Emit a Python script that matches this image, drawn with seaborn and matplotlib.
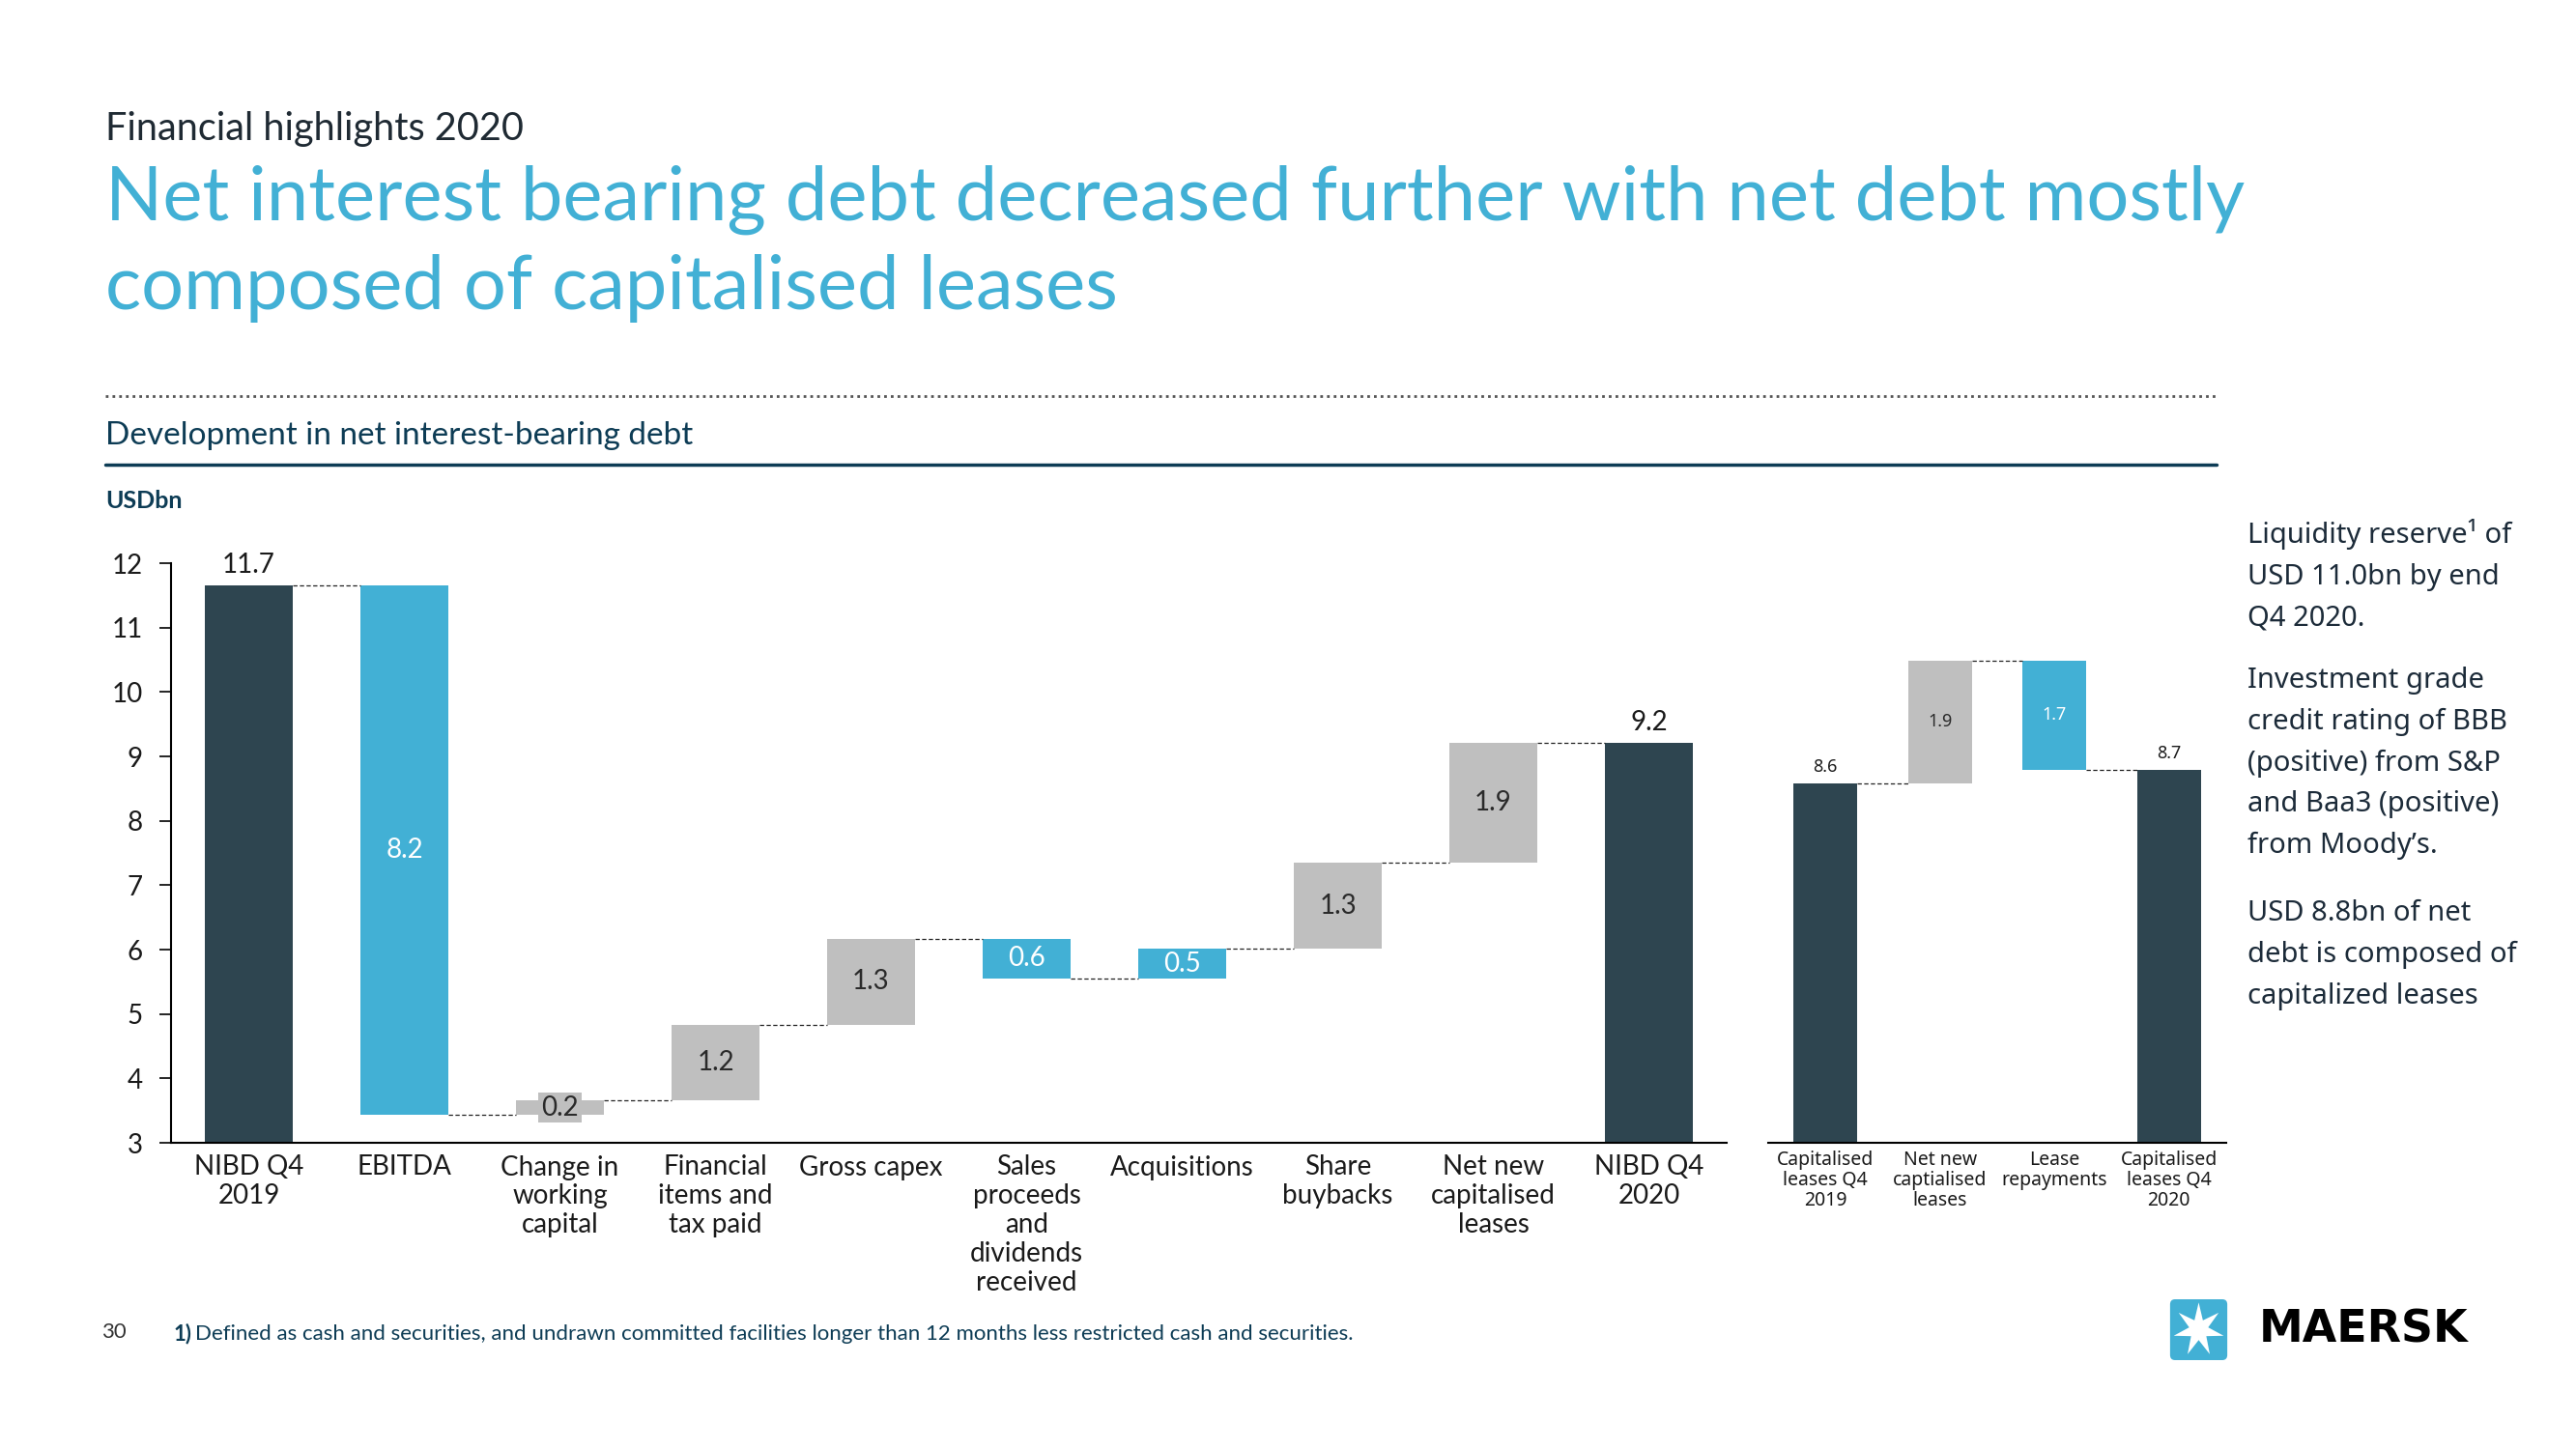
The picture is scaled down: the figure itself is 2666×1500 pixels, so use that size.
import matplotlib
matplotlib.use("Agg")
import matplotlib.pyplot as plt
import numpy as np
import pandas as pd
import seaborn as sns
from matplotlib.patches import FancyBboxPatch, Polygon

# main waterfall data (USDbn)
steps = ["NIBD Q4\n2019", "EBITDA", "Change in\nworking\ncapital", "Financial\nitems and\ntax paid",
         "Gross capex", "Sales\nproceeds\nand\ndividends\nreceived", "Acquisitions", "Share\nbuybacks",
         "Net new\ncapitalised\nleases", "NIBD Q4\n2020"]
step_values = [11.65, -8.22, 0.23, 1.17, 1.34, -0.62, 0.46, 1.34, 1.86, 9.21]
step_kinds = ["total", "blue", "grey", "grey", "grey", "blue", "blue", "grey", "grey", "total"]
step_labels = ["11.7", "8.2", "0.2", "1.2", "1.3", "0.6", "0.5", "1.3", "1.9", "9.2"]

# capitalised leases bridge
lease_steps = ["Capitalised\nleases Q4\n2019", "Net new\ncaptialised\nleases", "Lease\nrepayments",
               "Capitalised\nleases Q4\n2020"]
lease_values = [8.58, 1.91, -1.70, 8.79]
lease_kinds = ["total", "grey", "blue", "total"]
lease_labels = ["8.6", "1.9", "1.7", "8.7"]

yticks = list(range(3, 13))

DARK = "#2e4550"
BLUE = "#42b0d5"
GREY = "#bfbfbf"
NAVY = "#0d3c55"
TXT = "#1a1a1a"
palette = {"total": DARK, "blue": BLUE, "grey": GREY}


def bridge(values, kinds):
    # running totals -> bottoms / tops of each bar, plus connector level
    bottoms, tops, levels, level = [], [], [], 0.0
    for v, k in zip(values, kinds):
        if k == "total":
            level = v
            bottoms.append(0.0)
            tops.append(v)
        else:
            new = level + v
            bottoms.append(min(level, new))
            tops.append(max(level, new))
            level = new
        levels.append(level)
    return np.array(bottoms), np.array(tops), levels


def draw_bridge(ax, names, values, kinds, labels, width, fs):
    bottoms, tops, levels = bridge(values, kinds)
    df = pd.DataFrame({"step": names, "top": tops, "bottom": bottoms, "kind": kinds})
    sns.barplot(data=df, x="step", y="top", hue="kind", palette=palette, order=names,
                dodge=False, width=width, saturation=1, linewidth=0, legend=False, ax=ax)
    # white cover for the floating part
    sns.barplot(data=df, x="step", y="bottom", color="white", order=names,
                width=width, saturation=1, linewidth=0, ax=ax)
    # connectors
    for i in range(len(names) - 1):
        ax.plot([i + width / 2, i + 1 - width / 2], [levels[i], levels[i]],
                ls=(0, (3.5, 2)), color="#222222", lw=0.9, zorder=5)
    # value labels
    for i, (k, lab) in enumerate(zip(kinds, labels)):
        if k == "total":
            ax.annotate(lab, (i, tops[i]), xytext=(0, 6), textcoords="offset points",
                        ha="center", va="bottom", fontsize=fs, color=TXT)
        else:
            mid = (bottoms[i] + tops[i]) / 2
            col = "white" if k == "blue" else "#2a2a2a"
            bbox = None
            if tops[i] - bottoms[i] < 0.35 and k == "grey":
                bbox = dict(facecolor=GREY, edgecolor="none", pad=2)
            ax.text(i, mid, lab, ha="center", va="center", fontsize=fs, color=col, bbox=bbox, zorder=6)
    ax.set_xlim(-0.5, len(names) - 0.5)
    ax.set_ylim(3, 12)
    ax.set_xlabel("")
    ax.set_ylabel("")


sns.set_theme(style="white")
plt.rcParams["font.family"] = ["Lato", "DejaVu Sans"]

fig = plt.figure(figsize=(26.66, 15), dpi=100)
W, H = 2666, 1500


def fx(px):
    return px / W


def fy(py):
    return 1 - py / H


# main chart
ax = fig.add_axes([fx(177), fy(1183), fx(1787 - 177), (1183 - 583) / H])
draw_bridge(ax, steps, step_values, step_kinds, step_labels, 0.56, 20)
ax.set_yticks(yticks)
ax.set_yticklabels([str(t) for t in yticks], fontsize=20, color=TXT)
ax.tick_params(axis="y", length=9, width=1.2, color="black", pad=12, left=True)
ax.tick_params(axis="x", length=0, pad=9, labelsize=20, labelcolor=TXT)
for s in ["top", "right"]:
    ax.spines[s].set_visible(False)
for s in ["left", "bottom"]:
    ax.spines[s].set_color("black")
    ax.spines[s].set_linewidth(1.5)
for t in ax.get_xticklabels():
    t.set_linespacing(1.18)

# capitalised leases chart
ax2 = fig.add_axes([fx(1830), fy(1183), fx(2304 - 1830), (1183 - 583) / H])
draw_bridge(ax2, lease_steps, lease_values, lease_kinds, lease_labels, 0.56, 13)
ax2.set_yticks([])
ax2.tick_params(axis="x", length=0, pad=6)
for s in ["top", "right", "left"]:
    ax2.spines[s].set_visible(False)
ax2.spines["bottom"].set_color("black")
ax2.spines["bottom"].set_linewidth(1.5)
for t in ax2.get_xticklabels():
    t.set_fontsize(14)
    t.set_family(["Noto Sans", "DejaVu Sans"])
    t.set_color(TXT)
    t.set_linespacing(1.05)
for t in ax2.texts:
    t.set_family(["Noto Sans", "DejaVu Sans"])

# headings
fig.text(fx(109), fy(133), "Financial highlights 2020", fontsize=28.5, color="#1f2a33",
         va="center", ha="left")
fig.text(fx(109), fy(207), "Net interest bearing debt decreased further with net debt mostly",
         fontsize=56, color=BLUE, va="center", ha="left")
fig.text(fx(109), fy(299), "composed of capitalised leases",
         fontsize=56, color=BLUE, va="center", ha="left")
fig.lines.append(plt.Line2D([fx(109), fx(2294)], [fy(410), fy(410)], transform=fig.transFigure,
                            color="#555555", lw=2, ls=(0, (1, 1.5))))
fig.text(fx(109), fy(451), "Development in net interest-bearing debt", fontsize=24, color=NAVY,
         va="center", ha="left")
fig.lines.append(plt.Line2D([fx(109), fx(2294)], [fy(481), fy(481)], transform=fig.transFigure,
                            color=NAVY, lw=2.5))
fig.text(fx(109), fy(519), "USDbn", fontsize=18, color=NAVY, va="center", ha="left", fontweight="bold")

# side notes
side = ["Liquidity reserve\u00b9 of\nUSD 11.0bn by end\nQ4 2020.",
        "Investment grade\ncredit rating of BBB\n(positive) from S&P\nand Baa3 (positive)\nfrom Moody\u2019s.",
        "USD 8.8bn of net\ndebt is composed of\ncapitalized leases"]
side_y = [537, 690, 931]
for txt, y in zip(side, side_y):
    fig.text(fx(2326), fy(y), txt, fontsize=21, color="#1c2b39", va="top", ha="left",
             linespacing=1.62, family=["Noto Sans", "DejaVu Sans"])

# footer
fig.text(fx(105), fy(1379), "30", fontsize=16, color="#333333", va="center", ha="left")
fig.text(fx(180), fy(1381), "1)", fontsize=16, color=NAVY, va="center", ha="left", fontweight="bold")
fig.text(fx(202), fy(1381),
         "Defined as cash and securities, and undrawn committed facilities longer than 12 months less restricted cash and securities.",
         fontsize=16, color=NAVY, va="center", ha="left")

# logo
axl = fig.add_axes([fx(2244), fy(1410), fx(2307 - 2244), (1410 - 1343) / H])
axl.set_xlim(0, 1)
axl.set_ylim(0, 1)
axl.axis("off")
axl.add_patch(FancyBboxPatch((0.03, 0.03), 0.94, 0.94, boxstyle="round,pad=0,rounding_size=0.08",
                             facecolor=BLUE, edgecolor="none"))
ang = np.pi / 2 + np.arange(14) * np.pi / 7
rad = np.where(np.arange(14) % 2 == 0, 0.42, 0.16)
axl.add_patch(Polygon(np.column_stack([0.5 + rad * np.cos(ang), 0.5 + rad * np.sin(ang)]),
                      closed=True, facecolor="white", edgecolor="none"))
fig.text(fx(2338), fy(1377), "MAERSK", fontsize=33, fontweight="bold", color="black",
         va="center", ha="left", family=["DejaVu Sans"])

fig.savefig("out.png", dpi=100, facecolor="white")
